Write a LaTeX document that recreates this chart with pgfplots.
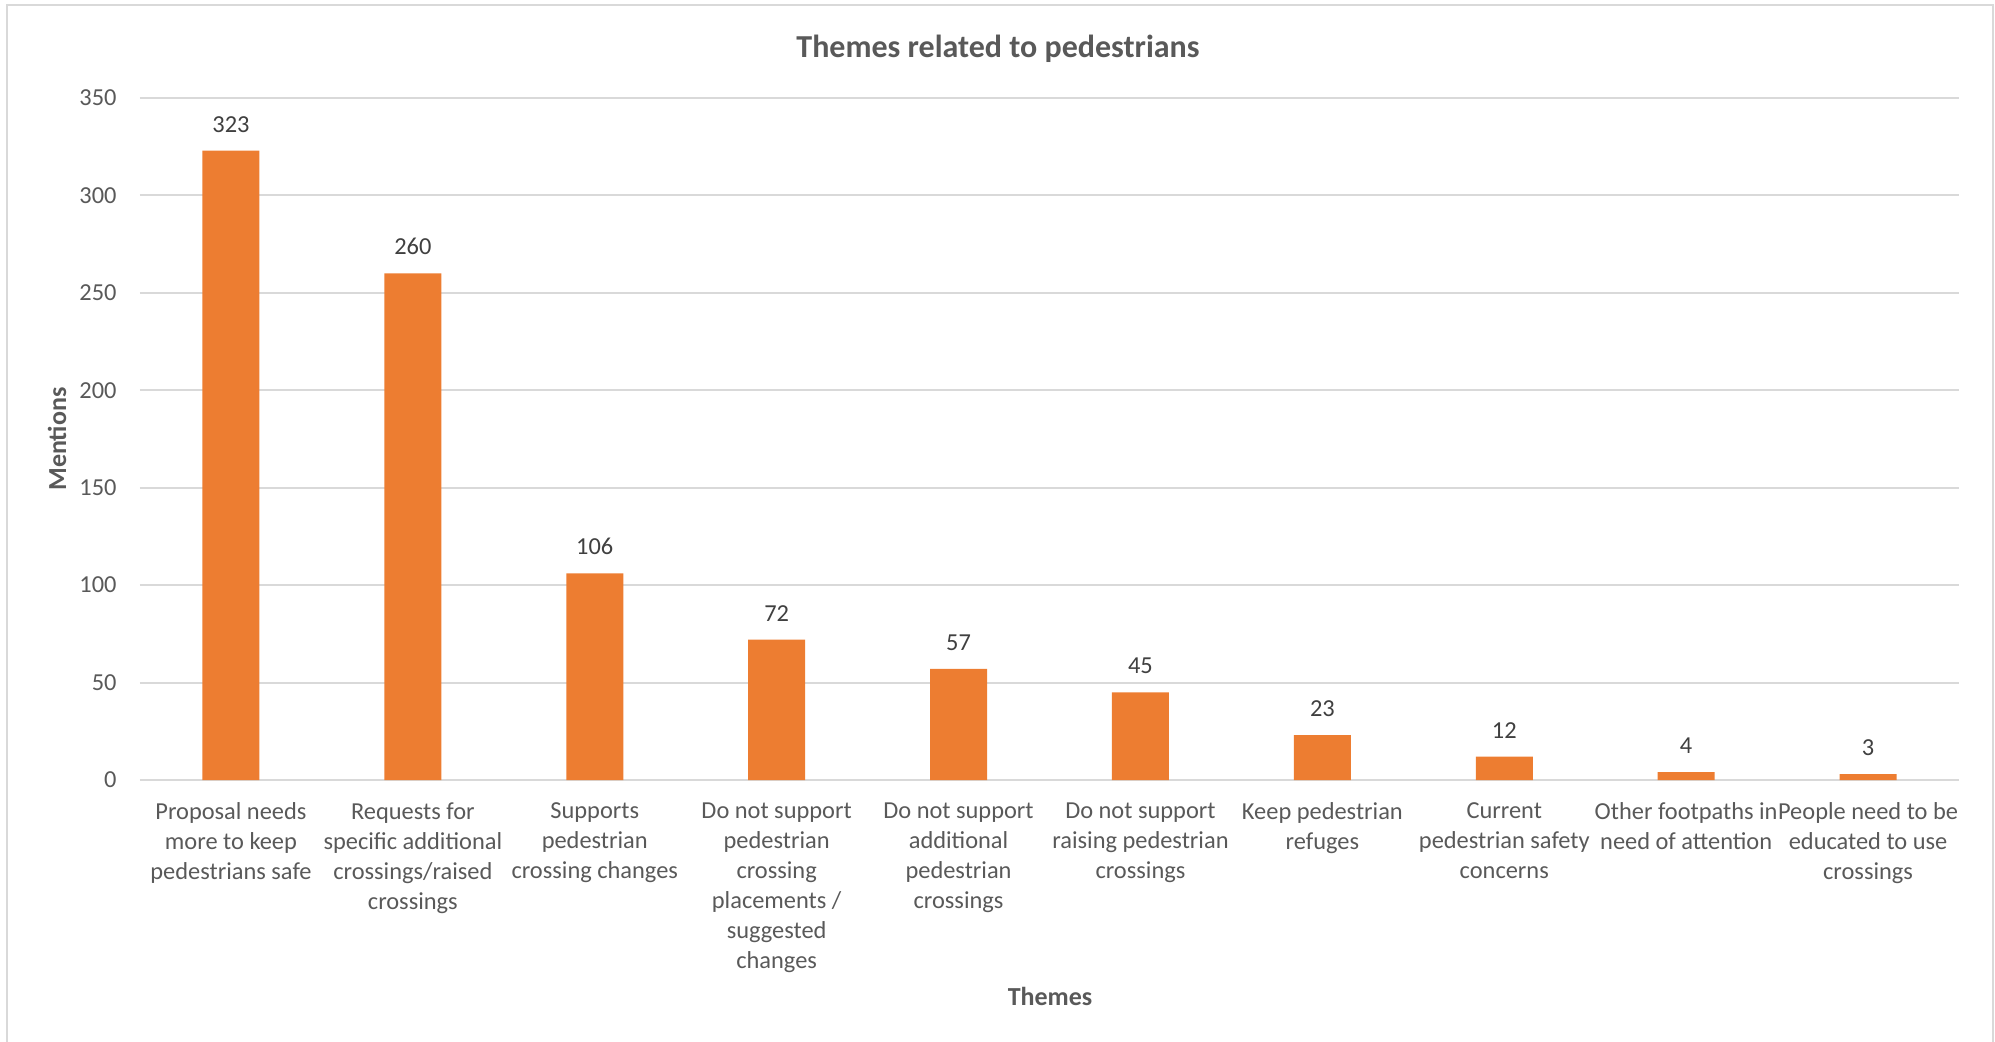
\documentclass[border=0pt]{standalone}
\usepackage{pgfplots}
\pgfplotsset{compat=1.18}
\usepackage{fontspec}
\setmainfont{Carlito}
\definecolor{barorange}{HTML}{ED7D31}
\definecolor{txtgray}{HTML}{595959}
\definecolor{gridgray}{HTML}{D9D9D9}
\definecolor{lblgray}{HTML}{404040}

\begin{document}
\begin{tikzpicture}
\useasboundingbox (-70pt,-130.5pt) rectangle (927.5pt,390pt);
\draw[gridgray, line width=1pt] (-66.5pt,-140pt) rectangle (926.5pt,387.5pt);
\begin{axis}[
  at={(0,0)}, anchor=south west, scale only axis,
  width=909.5pt, height=341pt,
  xmin=-0.5, xmax=9.5, ymin=0, ymax=350,
  /pgf/number format/assume math mode=true,
  ytick={0,50,...,350},
  xtick={0,...,9},
  xticklabels={
    {Proposal needs\\more to keep\\pedestrians safe},
    {Requests for\\specific additional\\crossings/raised\\crossings},
    {Supports\\pedestrian\\crossing changes},
    {Do not support\\pedestrian\\crossing\\placements /\\suggested\\changes},
    {Do not support\\additional\\pedestrian\\crossings},
    {Do not support\\raising pedestrian\\crossings},
    {Keep pedestrian\\refuges},
    {Current\\pedestrian safety\\concerns},
    {Other footpaths in\\need of attention},
    {People need to be\\educated to use\\crossings}},
  major tick length=0pt,
  axis y line*=left, y axis line style={draw=none},
  axis x line*=bottom, x axis line style={gridgray, line width=1pt, -},
  ymajorgrids, grid style={gridgray, line width=1pt},
  tick label style={txtgray, font=\fontsize{12.2}{15}\selectfont},
  yticklabel style={inner sep=0pt, anchor=east, xshift=-11.5pt},
  xticklabel style={align=center, inner sep=0pt, anchor=north, yshift=-11pt},
  every axis title shift=0pt,
  title={Themes related to pedestrians},
  title style={at={(axis description cs:0.4717,1.072)}, anchor=center,
    font=\fontsize{16}{19}\selectfont\bfseries, txtgray},
  ylabel={Mentions},
  ylabel style={at={(axis description cs:-0.0456,0.5)}, anchor=center, rotate=0,
    font=\fontsize{13}{15}\selectfont\bfseries, txtgray},
  xlabel={Themes},
  xlabel style={at={(axis description cs:0.5003,-0.3167)}, anchor=center,
    font=\fontsize{13}{15}\selectfont\bfseries, txtgray},
  nodes near coords,
  nodes near coords style={lblgray, font=\fontsize{12.2}{15}\selectfont,
    anchor=south, inner sep=0pt, yshift=9pt},
]
\addplot[ybar, bar width=28.5pt, fill=barorange, draw=none] coordinates {
  (0,323) (1,260) (2,106) (3,72) (4,57) (5,45) (6,23) (7,12) (8,4) (9,3)
};
\end{axis}
\end{tikzpicture}
\end{document}
